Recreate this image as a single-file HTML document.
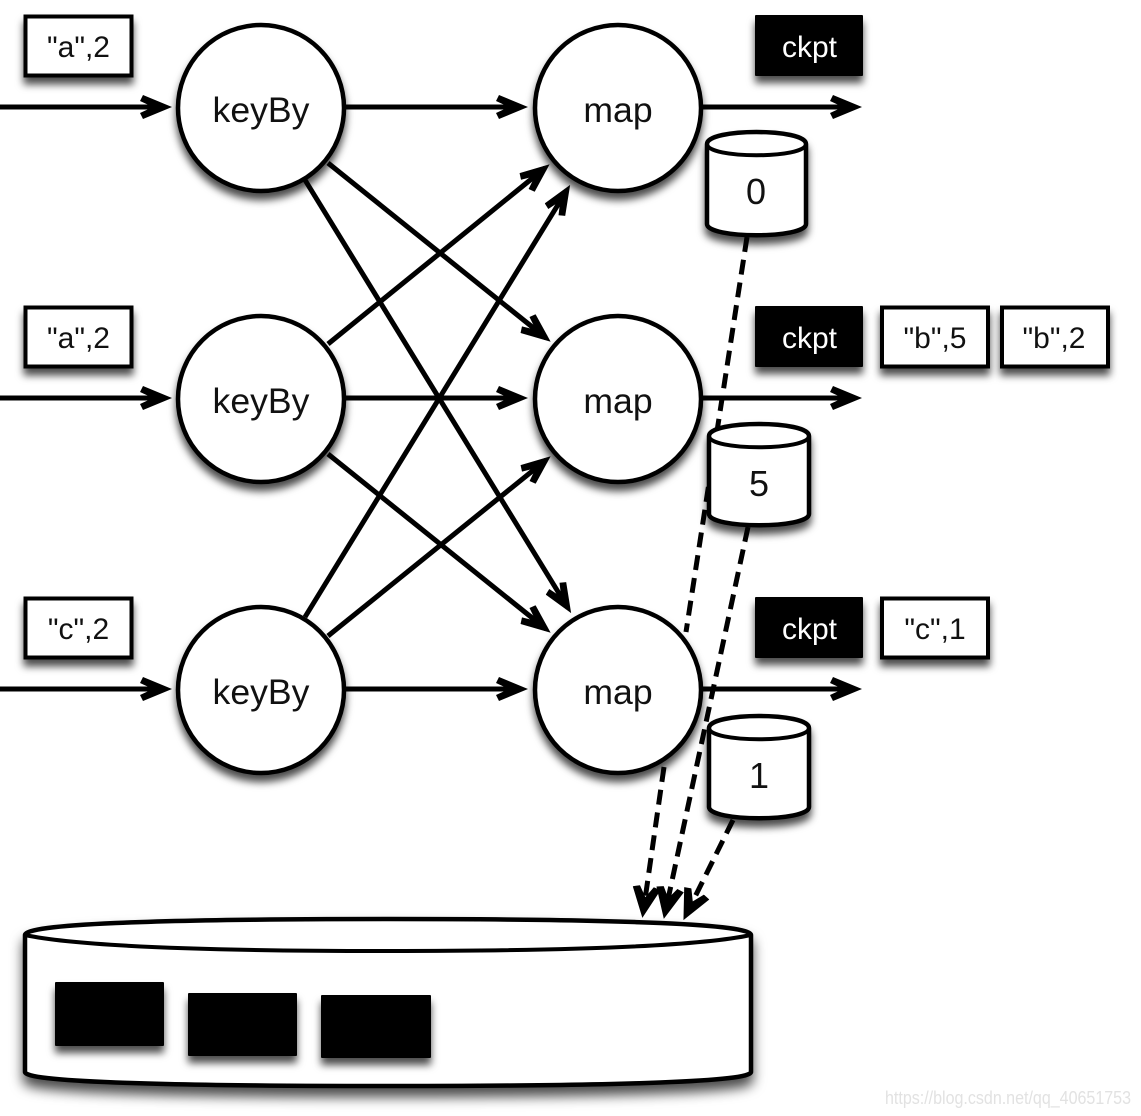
<!DOCTYPE html>
<html>
<head>
<meta charset="utf-8">
<style>
html,body{margin:0;padding:0;background:#fff;width:1141px;height:1116px;overflow:hidden}
svg{display:block}
text{font-family:"Liberation Sans",sans-serif;fill:#111;text-anchor:middle}
.l{stroke:#000;stroke-width:5;fill:none}
.d{stroke:#000;stroke-width:5;fill:none;stroke-dasharray:15 8}
.s{fill:#fff;stroke:#000;stroke-width:4.5}
.b{fill:#fff;stroke:#000;stroke-width:4}
.n{font-size:35.6px}
.t{font-size:30px}
.w{font-size:30px;fill:#fff}
.c{font-size:36px}
</style>
</head>
<body>
<svg width="1141" height="1116" viewBox="0 0 1141 1116" xmlns="http://www.w3.org/2000/svg">
<defs>
<filter id="sh" x="-20%" y="-20%" width="140%" height="150%">
<feDropShadow dx="0" dy="7" stdDeviation="4" flood-color="#000" flood-opacity="0.7"/>
</filter>
<filter id="shb" x="-10%" y="-20%" width="120%" height="150%">
<feDropShadow dx="0" dy="9" stdDeviation="6" flood-color="#000" flood-opacity="0.7"/>
</filter>
<marker id="a" viewBox="0 0 32 24" refX="26" refY="12" markerWidth="32" markerHeight="24" markerUnits="userSpaceOnUse" orient="auto">
<path d="M3 0 L32 12 L3 24 L0 18 L13 12 L0 6 Z" fill="#000"/>
</marker>
<marker id="ad" viewBox="0 0 32 28" refX="24" refY="14" markerWidth="32" markerHeight="28" markerUnits="userSpaceOnUse" orient="auto">
<path d="M2 0 L32 14 L2 28 L0 21 L11 14 L0 7 Z" fill="#000"/>
</marker>
</defs>

<!-- big store -->
<g filter="url(#shb)">
<path class="s" d="M25 935 Q25 919 388 919 Q751 919 751 935 L751 1072 Q751 1086 388 1086 Q25 1086 25 1072 Z"/>
</g>
<path d="M25 935 Q100 951 388 951 Q676 951 751 935" fill="none" stroke="#000" stroke-width="4"/>
<g filter="url(#sh)" fill="#000">
<rect x="55" y="982" width="109" height="64" rx="1"/>
<rect x="188" y="993" width="109" height="63" rx="1"/>
<rect x="321" y="995" width="110" height="63" rx="1"/>
</g>

<!-- cross connectors -->
<line class="l" x1="328" y1="163" x2="546" y2="338" marker-end="url(#a)"/>
<line class="l" x1="305" y1="180" x2="568" y2="608" marker-end="url(#a)"/>
<line class="l" x1="328" y1="344" x2="545" y2="168" marker-end="url(#a)"/>
<line class="l" x1="328" y1="454" x2="546" y2="629" marker-end="url(#a)"/>
<line class="l" x1="305" y1="617" x2="567" y2="190" marker-end="url(#a)"/>
<line class="l" x1="328" y1="636" x2="546" y2="460" marker-end="url(#a)"/>

<!-- horizontal arrows -->
<line class="l" x1="0" y1="107" x2="166" y2="107" marker-end="url(#a)"/>
<line class="l" x1="0" y1="398" x2="166" y2="398" marker-end="url(#a)"/>
<line class="l" x1="0" y1="689" x2="166" y2="689" marker-end="url(#a)"/>
<line class="l" x1="345" y1="107" x2="522" y2="107" marker-end="url(#a)"/>
<line class="l" x1="345" y1="398" x2="522" y2="398" marker-end="url(#a)"/>
<line class="l" x1="345" y1="689" x2="522" y2="689" marker-end="url(#a)"/>
<line class="l" x1="703" y1="107" x2="856" y2="107" marker-end="url(#a)"/>
<line class="l" x1="703" y1="398" x2="856" y2="398" marker-end="url(#a)"/>
<line class="l" x1="703" y1="689" x2="856" y2="689" marker-end="url(#a)"/>

<!-- circles -->
<g filter="url(#sh)">
<circle class="s" cx="261" cy="108" r="83"/>
<circle class="s" cx="261" cy="399" r="83"/>
<circle class="s" cx="261" cy="690" r="83"/>
<circle class="s" cx="618" cy="108" r="83"/>
<circle class="s" cx="618" cy="399" r="83"/>
<circle class="s" cx="618" cy="690" r="83"/>
</g>
<text class="n" x="261" y="122">keyBy</text>
<text class="n" x="261" y="413">keyBy</text>
<text class="n" x="261" y="704">keyBy</text>
<text class="n" x="618" y="122">map</text>
<text class="n" x="618" y="413">map</text>
<text class="n" x="618" y="704">map</text>

<!-- data boxes -->
<g filter="url(#sh)">
<rect class="b" x="25.5" y="16.5" width="106" height="59"/>
<rect class="b" x="25.5" y="307.5" width="106" height="59"/>
<rect class="b" x="25.5" y="598.5" width="106" height="59"/>
<rect class="b" x="882" y="307.5" width="106" height="59"/>
<rect class="b" x="1002" y="307.5" width="106" height="59"/>
<rect class="b" x="882" y="598.5" width="106" height="59"/>
<rect x="755" y="15" width="108" height="61" rx="1" fill="#000"/>
<rect x="755" y="306" width="108" height="61" rx="1" fill="#000"/>
<rect x="755" y="597" width="108" height="61" rx="1" fill="#000"/>
</g>
<text class="t" x="78.5" y="57">"a",2</text>
<text class="t" x="78.5" y="348">"a",2</text>
<text class="t" x="78.5" y="639">"c",2</text>
<text class="t" x="935" y="348">"b",5</text>
<text class="t" x="1054" y="348">"b",2</text>
<text class="t" x="935" y="639">"c",1</text>
<text class="w" x="809.5" y="57">ckpt</text>
<text class="w" x="809.5" y="348">ckpt</text>
<text class="w" x="809.5" y="639">ckpt</text>

<!-- dashed connectors -->
<line class="d" x1="747" y1="237" x2="686" y2="632"/>
<line class="d" x1="664" y1="767" x2="643.5" y2="910" marker-end="url(#ad)"/>
<line class="d" x1="748" y1="527" x2="665.5" y2="911" marker-end="url(#ad)"/>
<line class="d" x1="733" y1="820" x2="687" y2="913" marker-end="url(#ad)"/>

<!-- small cylinders -->
<g filter="url(#sh)">
<path class="s" d="M707 144 C707 128 806 128 806 144 L806 224 C806 239 707 239 707 224 Z"/>
<path class="s" d="M709 436 C709 420 809 420 809 436 L809 514 C809 529 709 529 709 514 Z"/>
<path class="s" d="M709 728 C709 712 809 712 809 728 L809 807 C809 822 709 822 709 807 Z"/>
</g>
<path d="M707 144 C707 159 806 159 806 144" fill="none" stroke="#000" stroke-width="4"/>
<path d="M709 436 C709 451 809 451 809 436" fill="none" stroke="#000" stroke-width="4"/>
<path d="M709 728 C709 743 809 743 809 728" fill="none" stroke="#000" stroke-width="4"/>
<text class="c" x="756" y="204">0</text>
<text class="c" x="759" y="496">5</text>
<text class="c" x="759" y="788">1</text>

<!-- watermark -->
<text x="1008" y="1104" textLength="246" lengthAdjust="spacingAndGlyphs" style="font-size:18px;fill:#e2e2e2">https://blog.csdn.net/qq_40651753</text>
</svg>
</body>
</html>
